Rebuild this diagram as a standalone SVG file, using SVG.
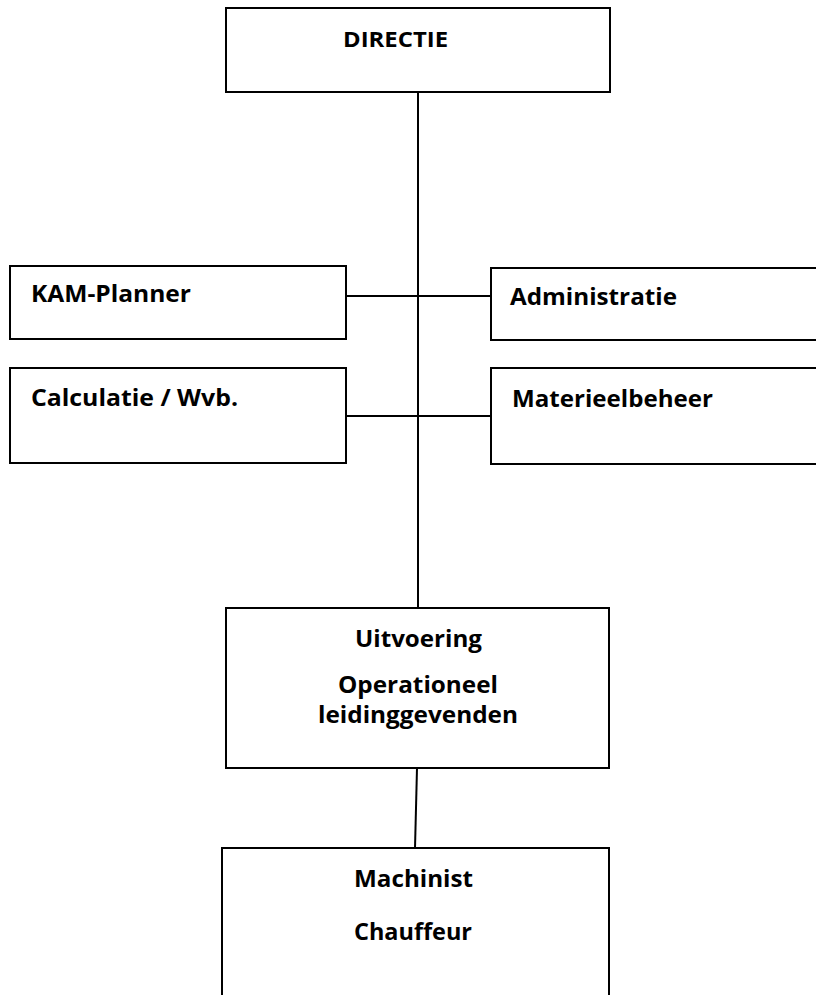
<svg xmlns="http://www.w3.org/2000/svg" width="816" height="995" viewBox="0 0 816 995">
<style>
.box{fill:#fff;stroke:#000;stroke-width:2}
.lbl{font-family:"Open Sans","Liberation Sans",sans-serif;font-weight:bold;font-size:24px;fill:#000}
.conn{stroke:#000;stroke-width:2;fill:none}
</style>
<rect width="816" height="995" fill="#fff"/>
<g id="connectors">
<line class="conn" x1="418" y1="92" x2="418" y2="608"/>
<line class="conn" x1="346" y1="296" x2="491" y2="296"/>
<line class="conn" x1="346" y1="416" x2="491" y2="416"/>
<line class="conn" x1="417" y1="768" x2="415" y2="848"/>
</g>
<g id="directie">
<rect class="box" x="226" y="8" width="384" height="84"/>
<text class="lbl" x="343" y="47" style="font-size:22px" textLength="105" lengthAdjust="spacingAndGlyphs">DIRECTIE</text>
</g>
<g id="kam-planner">
<rect class="box" x="10" y="266" width="336" height="73"/>
<text class="lbl" x="31" y="302" textLength="160" lengthAdjust="spacingAndGlyphs">KAM-Planner</text>
</g>
<g id="administratie">
<rect class="box" x="491" y="268" width="330" height="72"/>
<text class="lbl" x="510" y="305" textLength="167" lengthAdjust="spacingAndGlyphs">Administratie</text>
</g>
<g id="calculatie">
<rect class="box" x="10" y="368" width="336" height="95"/>
<text class="lbl" x="31" y="406" textLength="207" lengthAdjust="spacingAndGlyphs">Calculatie / Wvb.</text>
</g>
<g id="materieelbeheer">
<rect class="box" x="491" y="368" width="330" height="96"/>
<text class="lbl" x="512" y="407" textLength="201" lengthAdjust="spacingAndGlyphs">Materieelbeheer</text>
</g>
<g id="uitvoering">
<rect class="box" x="226" y="608" width="383" height="160"/>
<text class="lbl" x="355" y="647" textLength="127" lengthAdjust="spacingAndGlyphs">Uitvoering</text>
<text class="lbl" x="338" y="693" textLength="160" lengthAdjust="spacingAndGlyphs">Operationeel</text>
<text class="lbl" x="318" y="723" textLength="200" lengthAdjust="spacingAndGlyphs">leidinggevenden</text>
</g>
<g id="machinist">
<path class="box" d="M222,1000 V848 H609 V1000"/>
<text class="lbl" x="354" y="887" textLength="119" lengthAdjust="spacingAndGlyphs">Machinist</text>
<text class="lbl" x="354" y="940" textLength="118" lengthAdjust="spacingAndGlyphs">Chauffeur</text>
</g>
</svg>
